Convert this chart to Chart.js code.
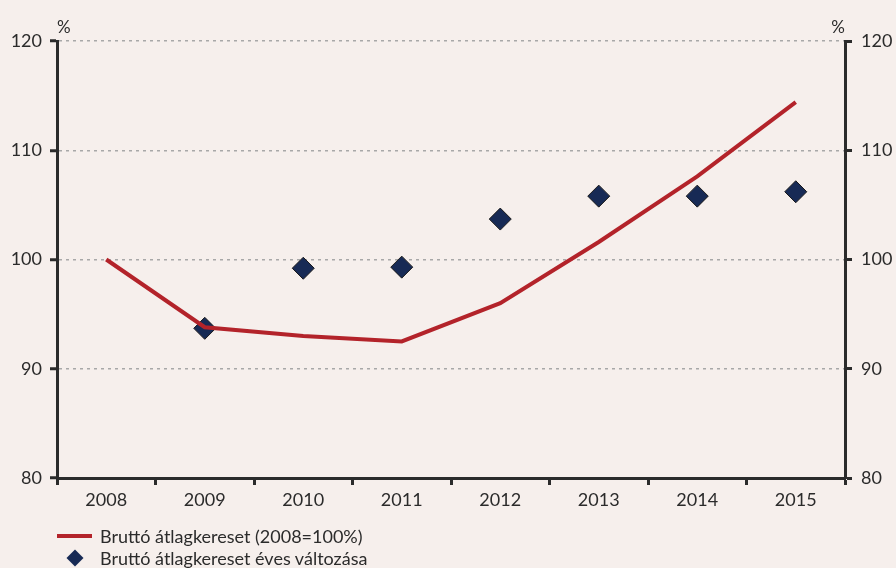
<!DOCTYPE html>
<html>
<head>
<meta charset="utf-8">
<script src="https://cdn.jsdelivr.net/npm/chart.js@4"></script>
<style>
  html, body { margin: 0; padding: 0; background: #f6efec; }
  #wrap { position: relative; width: 896px; height: 568px; }
  #legend { position: absolute; left: 57px; top: 525px; font: 18px Lato, sans-serif; color: #2b2b2b; }
  .item { display: flex; align-items: center; height: 22px; }
  .swatch { width: 35px; display: flex; justify-content: center; margin-right: 8px; }
  .line { width: 35px; height: 4px; background: #b3232a; }
  .diamond { width: 12px; height: 12px; background: #172a55; transform: rotate(45deg); }
</style>
</head>
<body>
<div id="wrap">
  <canvas id="chart" width="896" height="568"></canvas>
  <div id="legend">
    <div class="item"><span class="swatch"><span class="line"></span></span>Bruttó átlagkereset (2008=100%)</div>
    <div class="item"><span class="swatch"><span class="diamond"></span></span>Bruttó átlagkereset éves változása</div>
  </div>
</div>
<script>
const years = ['2008', '2009', '2010', '2011', '2012', '2013', '2014', '2015'];
const indexValues = [100, 93.8, 93.0, 92.5, 96.0, 101.6, 107.6, 114.4];
const annualChange = [null, 93.7, 99.2, 99.3, 103.7, 105.8, 105.8, 106.2];
const yMin = 80, yMax = 120, yStep = 10;

const axisFont = { family: 'Lato, sans-serif', size: 18 };

// "%" unit labels above both axes
const unitLabels = {
  id: 'unitLabels',
  afterDraw(chart) {
    const { ctx, chartArea } = chart;
    ctx.save();
    ctx.font = '17px Lato, sans-serif';
    ctx.fillStyle = '#2b2b2b';
    ctx.textBaseline = 'bottom';
    ctx.textAlign = 'left';
    ctx.fillText('%', chartArea.left, chartArea.top - 5);
    ctx.textAlign = 'right';
    ctx.fillText('%', chartArea.right, chartArea.top - 5);
    ctx.restore();
  }
};

new Chart(document.getElementById('chart'), {
  type: 'line',
  data: {
    labels: years,
    datasets: [
      {
        label: 'Bruttó átlagkereset (2008=100%)',
        data: indexValues,
        borderColor: '#b3232a',
        borderWidth: 4,
        pointRadius: 0,
        tension: 0,
        yAxisID: 'y'
      },
      {
        label: 'Bruttó átlagkereset éves változása',
        data: annualChange,
        showLine: false,
        pointStyle: 'rectRot',
        pointRadius: 11,
        pointBackgroundColor: '#172a55',
        pointBorderColor: '#1a1a1a',
        pointBorderWidth: 1,
        yAxisID: 'y'
      }
    ]
  },
  options: {
    responsive: false,
    animation: false,
    layout: { padding: { top: 41, bottom: 0, left: 0, right: 0 } },
    plugins: { legend: { display: false }, tooltip: { enabled: false } },
    scales: {
      x: {
        offset: true,
        grid: { offset: true, drawOnChartArea: false, tickLength: 7, tickColor: '#2b2b2b', tickWidth: 3 },
        border: { color: '#2b2b2b', width: 3 },
        ticks: { color: '#2b2b2b', font: axisFont, padding: 4 },
        afterFit(s) { s.height = 90; }
      },
      y: {
        position: 'left',
        min: yMin, max: yMax,
        ticks: { stepSize: yStep, color: '#2b2b2b', font: axisFont, padding: 8 },
        grid: { color: '#a8a8a8', lineWidth: 1.5, tickColor: '#2b2b2b', tickWidth: 3, tickLength: 7, tickBorderDash: [] },
        border: { color: '#2b2b2b', width: 3, dash: [3, 4] },
        afterFit(s) { s.width = 57; }
      },
      y2: {
        position: 'right',
        min: yMin, max: yMax,
        ticks: { stepSize: yStep, color: '#2b2b2b', font: axisFont, padding: 9 },
        grid: { drawOnChartArea: false, tickColor: '#2b2b2b', tickWidth: 3, tickLength: 7 },
        border: { color: '#2b2b2b', width: 3 },
        afterFit(s) { s.width = 51; }
      }
    }
  },
  plugins: [unitLabels]
});
</script>
</body>
</html>
